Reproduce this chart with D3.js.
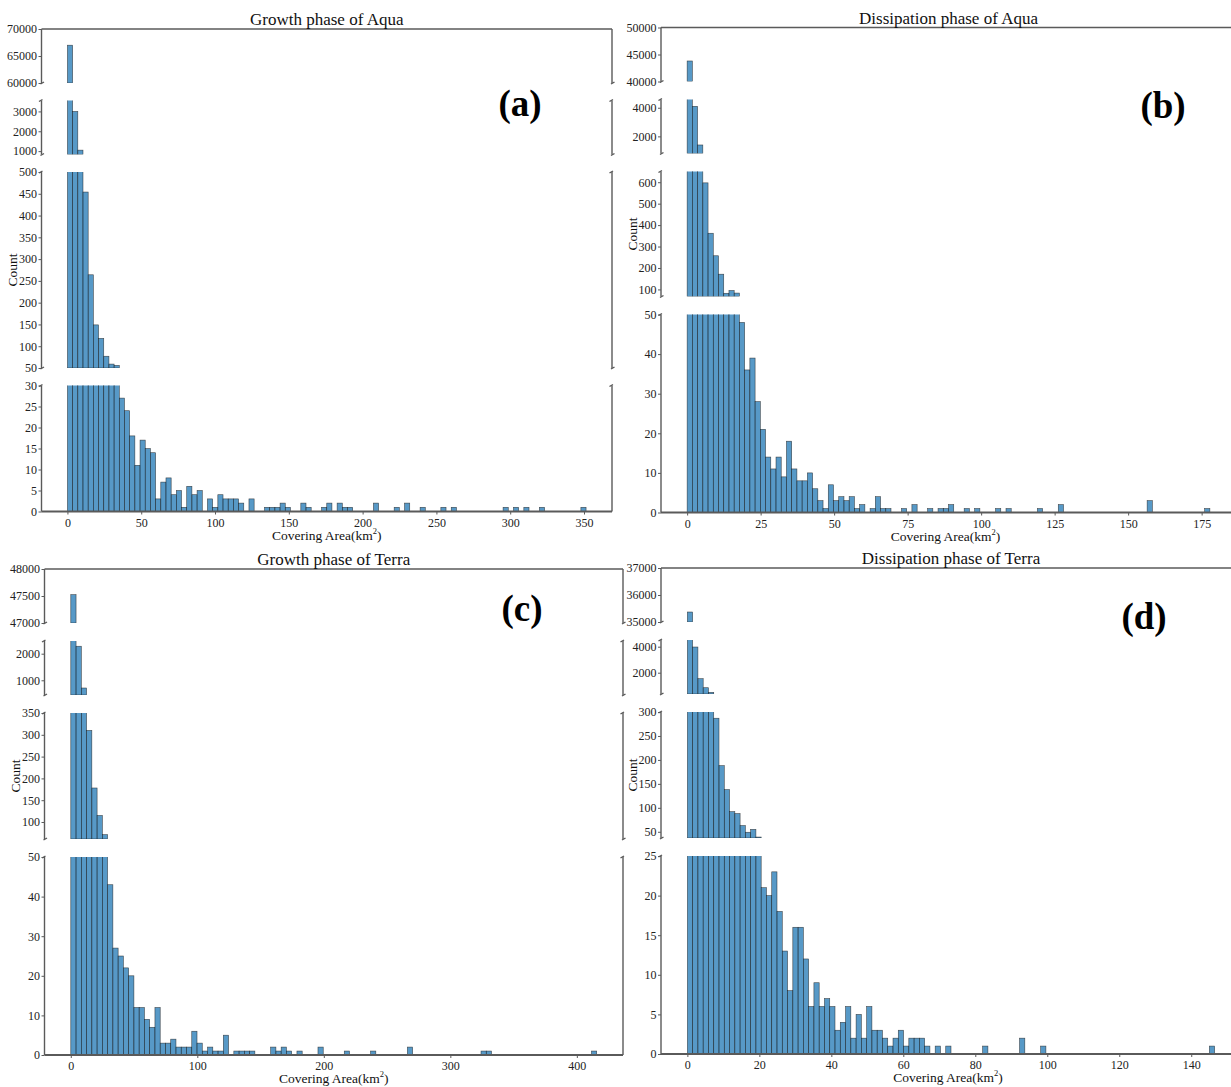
<!DOCTYPE html>
<html>
<head>
<meta charset="utf-8">
<script src="https://cdn.jsdelivr.net/npm/d3@7"></script>
<style>
  body { margin: 0; background: #fff; }
  svg { display: block; }
  text { font-family: "Liberation Serif", "Times New Roman", serif; }
</style>
</head>
<body>
<div id="chart"></div>
<script>
// histogram counts (100 equal bins starting at 0)
var countsA = [
  67000, 3000, 1050, 454, 264, 149, 118, 77, 59, 56,
  27, 24, 18, 11, 17, 15, 14, 3, 7, 8,
  4, 5, 1, 6, 4, 5, 0, 3, 1, 4,
  3, 3, 3, 2, 0, 3, 0, 0, 1, 1,
  1, 2, 1, 0, 0, 2, 1, 0, 0, 1,
  2, 0, 2, 1, 1, 0, 0, 0, 0, 2,
  0, 0, 0, 1, 0, 2, 0, 0, 1, 0,
  0, 0, 1, 0, 1, 0, 0, 0, 0, 0,
  0, 0, 0, 0, 1, 0, 1, 0, 1, 0,
  0, 1, 0, 0, 0, 0, 0, 0, 0, 1];
var countsB = [
  43800, 4100, 1400, 597, 362, 257, 171, 82, 95, 83,
  48, 36, 39, 28, 21, 14, 11, 14, 9, 18,
  11, 8, 8, 10, 6, 3, 1, 7, 3, 4,
  3, 4, 1, 2, 0, 1, 4, 1, 1, 0,
  0, 1, 0, 2, 0, 0, 1, 0, 1, 1,
  2, 0, 0, 1, 0, 1, 0, 0, 0, 1,
  0, 1, 0, 0, 0, 0, 0, 1, 0, 0,
  0, 2, 0, 0, 0, 0, 0, 0, 0, 0,
  0, 0, 0, 0, 0, 0, 0, 0, 3, 0,
  0, 0, 0, 0, 0, 0, 0, 0, 0, 1];
var countsC = [
  47525, 2280, 710, 310, 178, 115, 71, 43, 27, 25,
  22, 20, 12, 12, 9, 7, 12, 3, 3, 4,
  2, 2, 2, 6, 3, 1, 2, 1, 1, 5,
  0, 1, 1, 1, 1, 0, 0, 0, 2, 1,
  2, 1, 0, 1, 0, 0, 0, 2, 0, 0,
  0, 0, 1, 0, 0, 0, 0, 1, 0, 0,
  0, 0, 0, 0, 2, 0, 0, 0, 0, 0,
  0, 0, 0, 0, 0, 0, 0, 0, 1, 1,
  0, 0, 0, 0, 0, 0, 0, 0, 0, 0,
  0, 0, 0, 0, 0, 0, 0, 0, 0, 1];
var countsD = [
  35370, 3975, 1540, 846, 490, 287, 188, 138, 92, 88,
  63, 49, 55, 39, 21, 20, 23, 18, 13, 8,
  16, 16, 12, 6, 9, 6, 7, 6, 3, 4,
  6, 2, 5, 2, 6, 3, 3, 2, 1, 2,
  3, 1, 2, 2, 2, 1, 0, 1, 0, 1,
  0, 0, 0, 0, 0, 0, 1, 0, 0, 0,
  0, 0, 0, 2, 0, 0, 0, 1, 0, 0,
  0, 0, 0, 0, 0, 0, 0, 0, 0, 0,
  0, 0, 0, 0, 0, 0, 0, 0, 0, 0,
  0, 0, 0, 0, 0, 0, 0, 0, 0, 1];

// bin width in km2 for each panel
var binWidths = [3.514, 1.778, 4.157, 1.465];

var titles = ["Growth phase of Aqua", "Dissipation phase of Aqua",
              "Growth phase of Terra", "Dissipation phase of Terra"];
var tags = ["(a)", "(b)", "(c)", "(d)"];

// y limits of the four stacked (broken) axes, top to bottom
var segDomainsA = [[60000, 70000], [830, 3550], [50, 500], [0, 30]];
var segDomainsB = [[40000, 50000], [805, 4575], [67, 650], [0, 50]];
var segDomainsC = [[47000, 48000], [447, 2477], [61, 350], [0, 50]];
var segDomainsD = [[35000, 37000], [362, 4515], [37, 300], [0, 25]];

var segTicksA = [[60000, 65000, 70000], [1000, 2000, 3000],
                 [50, 100, 150, 200, 250, 300, 350, 400, 450, 500], [0, 5, 10, 15, 20, 25, 30]];
var segTicksB = [[40000, 45000, 50000], [2000, 4000],
                 [100, 200, 300, 400, 500, 600], [0, 10, 20, 30, 40, 50]];
var segTicksC = [[47000, 47500, 48000], [1000, 2000],
                 [100, 150, 200, 250, 300, 350], [0, 10, 20, 30, 40, 50]];
var segTicksD = [[35000, 36000, 37000], [2000, 4000],
                 [50, 100, 150, 200, 250, 300], [0, 5, 10, 15, 20, 25]];

var xTicksA = [0, 50, 100, 150, 200, 250, 300, 350];
var xTicksB = [0, 25, 50, 75, 100, 125, 150, 175];
var xTicksC = [0, 100, 200, 300, 400];
var xTicksD = [0, 20, 40, 60, 80, 100, 120, 140];

// pixel layout of each panel (left/right spine, top of first axis, axis heights)
var layout = [
  {left: 41.5, right: 612, top: 29,   heights: [54, 54, 196, 126], gap: 17.5, tag: [520, 105]},
  {left: 661,  right: 1236, top: 27.5, heights: [54, 54, 125, 198], gap: 18,  tag: [1163, 107]},
  {left: 44.5, right: 623, top: 569,  heights: [54, 54, 126, 198], gap: 18,   tag: [522, 610]},
  {left: 661,  right: 1241, top: 568, heights: [54, 54, 126, 198], gap: 18,   tag: [1144, 618]}
];

var panels = [
  {counts: countsA, segs: segDomainsA, ticks: segTicksA, xticks: xTicksA},
  {counts: countsB, segs: segDomainsB, ticks: segTicksB, xticks: xTicksB},
  {counts: countsC, segs: segDomainsC, ticks: segTicksC, xticks: xTicksC},
  {counts: countsD, segs: segDomainsD, ticks: segTicksD, xticks: xTicksD}
];

var spineColor = "#5a5a5a";
var barFill = "#1f77b4";
var tickFont = 12;

var svg = d3.select("#chart").append("svg")
    .attr("width", 1231)
    .attr("height", 1087);

panels.forEach(function(p, pi) {
    var L = layout[pi];
    var w = binWidths[pi];
    var maxX = w * p.counts.length;
    var bins = p.counts.map(function(c, i) { return {x0: i * w, x1: (i + 1) * w, n: c}; });

    //matplotlib style 5% margins on x
    var x = d3.scaleLinear()
        .domain([-0.05 * maxX, 1.05 * maxX])
        .range([L.left, L.right]);

    var g = svg.append("g");
    var y0 = L.top;
    var segBottom = 0;

    p.segs.forEach(function(dom, si) {
        var h = L.heights[si];
        var top = y0, bottom = y0 + h;
        var y = d3.scaleLinear().domain(dom).range([bottom, top]);
        var clipId = "clip-" + pi + "-" + si;
        var cap = dom[1] + (dom[1] - dom[0]) * 0.05;

        g.append("clipPath").attr("id", clipId)
          .append("rect")
            .attr("x", L.left).attr("y", top)
            .attr("width", L.right - L.left).attr("height", h);

        //bars, cut by the segment box
        g.append("g")
            .attr("clip-path", "url(#" + clipId + ")")
          .selectAll("rect")
          .data(bins.filter(function(b) { return b.n > dom[0]; }))
          .join("rect")
            .attr("x", function(b) { return x(b.x0); })
            .attr("width", function(b) { return x(b.x1) - x(b.x0); })
            .attr("y", function(b) { return y(Math.min(b.n, cap)); })
            .attr("height", function(b) { return y(dom[0]) - y(Math.min(b.n, cap)); })
            .attr("fill", barFill)
            .attr("fill-opacity", 0.75)
            .attr("stroke", "#1a1a1a")
            .attr("stroke-opacity", 0.75)
            .attr("stroke-width", 0.6);

        //y axis ticks
        var ax = g.append("g")
            .attr("transform", "translate(" + L.left + ",0)")
            .call(d3.axisLeft(y).tickValues(p.ticks[si]).tickSize(3).tickPadding(1.5).tickFormat(d3.format("d")));
        ax.select(".domain").remove();
        ax.selectAll(".tick line").attr("stroke", spineColor);
        ax.selectAll(".tick text")
            .attr("font-size", tickFont)
            .attr("font-family", "Liberation Serif, serif")
            .attr("fill", "#222");

        //spines
        var sp = g.append("g").attr("stroke", spineColor).attr("stroke-width", 1.4).attr("fill", "none");
        sp.append("line").attr("x1", L.left).attr("x2", L.left).attr("y1", top).attr("y2", bottom);
        sp.append("line").attr("x1", L.right).attr("x2", L.right).attr("y1", top).attr("y2", bottom);
        if (si === 0) {
            sp.append("line").attr("x1", L.left).attr("x2", L.right).attr("y1", top).attr("y2", top);
        }
        //break marks
        [L.left, L.right].forEach(function(sx) {
            if (si > 0) {
                sp.append("line").attr("x1", sx - 2.5).attr("x2", sx + 1).attr("y1", top + 1).attr("y2", top - 1);
            }
            if (si < p.segs.length - 1) {
                sp.append("line").attr("x1", sx - 1).attr("x2", sx + 2.5).attr("y1", bottom + 1).attr("y2", bottom - 1);
            }
        });

        //label Count on the third axis
        if (si === 2) {
            g.append("text")
                .attr("transform", "translate(" + (L.left - 24.5) + "," + ((top + bottom) / 2) + ") rotate(-90)")
                .attr("text-anchor", "middle")
                .attr("font-size", 13.5)
                .attr("fill", "#111")
                .text("Count");
        }

        if (si === p.segs.length - 1) {
            segBottom = bottom;
            sp.append("line").attr("x1", L.left).attr("x2", L.right).attr("y1", bottom).attr("y2", bottom)
                .attr("stroke-width", 1.8);
        }
        y0 = bottom + L.gap;
    });

    //x axis
    var xa = g.append("g")
        .attr("transform", "translate(0," + segBottom + ")")
        .call(d3.axisBottom(x).tickValues(p.xticks).tickSize(3).tickPadding(3.5).tickFormat(d3.format("d")));
    xa.select(".domain").remove();
    xa.selectAll(".tick line").attr("stroke", spineColor);
    xa.selectAll(".tick text")
        .attr("font-size", tickFont)
        .attr("font-family", "Liberation Serif, serif")
        .attr("fill", "#222");

    var xl = g.append("text")
        .attr("x", (L.left + L.right) / 2 - (pi % 2 ? 3 : 0))
        .attr("y", segBottom + 28)
        .attr("text-anchor", "middle")
        .attr("font-size", 13.5)
        .attr("fill", "#111");
    xl.append("tspan").text("Covering Area(km");
    xl.append("tspan").attr("dy", -6).attr("font-size", 8.5).text("2");
    xl.append("tspan").attr("dy", 6).text(")");

    //title
    g.append("text")
        .attr("x", (L.left + L.right) / 2)
        .attr("y", L.top - 4)
        .attr("text-anchor", "middle")
        .attr("font-size", 17)
        .attr("fill", "#111")
        .text(titles[pi]);

    //panel tag
    g.append("text")
        .attr("x", L.tag[0])
        .attr("y", L.tag[1] + 11)
        .attr("text-anchor", "middle")
        .attr("font-size", 37)
        .attr("font-weight", "bold")
        .attr("fill", "#000")
        .text(tags[pi]);
});
</script>
</body>
</html>
